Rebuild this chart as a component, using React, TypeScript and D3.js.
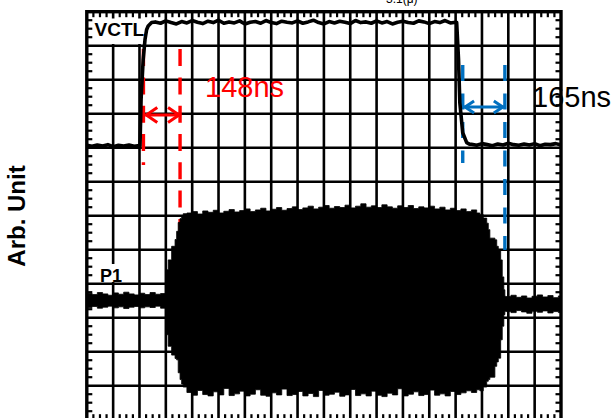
import React from 'react';
import * as d3 from 'd3';

// ---------- data (x in divisions 0..18, y in divisions 0..12) ----------
const xDivisions = 18;
const yDivisions = 12;

// VCTL trace
const vctlLowLeftStart = 0;
const vctlLowLeft = [8.07, 8.04, 8.08, 8.05, 8.09, 8.03, 8.07, 8.05, 8.08, 8.04, 8.06];
const vctlRise: [number, number][] = [[2.02, 8.06], [2.06, 9.41], [2.14, 10.59], [2.21, 11.18], [2.27, 11.47], [2.33, 11.58], [2.46, 11.68]];
const vctlHighStart = 2.6;
const vctlHigh = [
  11.70, 11.66, 11.73, 11.68, 11.64, 11.71, 11.67, 11.74, 11.69, 11.65,
  11.72, 11.68, 11.75, 11.66, 11.70, 11.67, 11.73, 11.64, 11.69, 11.71,
  11.66, 11.74, 11.68, 11.65, 11.72, 11.69, 11.67, 11.73, 11.66, 11.70,
  11.75, 11.68, 11.64, 11.71, 11.67, 11.72, 11.69, 11.65, 11.74, 11.68,
  11.70, 11.66, 11.73, 11.67, 11.71, 11.64, 11.69, 11.72, 11.68, 11.66,
  11.73, 11.70, 11.65, 11.71, 11.68, 11.74, 11.67, 11.69,
];
const vctlFall: [number, number][] = [[14.04, 11.68], [14.11, 10.6], [14.16, 9.32], [14.27, 8.44], [14.42, 8.15], [14.54, 8.10]];
const vctlLowRightStart = 14.6;
const vctlLowRight = [8.10, 8.07, 8.12, 8.09, 8.06, 8.11, 8.08, 8.13, 8.09, 8.07, 8.11, 8.08, 8.12, 8.06, 8.10, 8.09, 8.12, 8.08];
const sampleStep = 0.2;

// P1 trace: time, upper edge, lower edge
const p1BaseLeftStart = 0;
const p1BaseLeftUpper = [3.72, 3.68, 3.74, 3.70, 3.66, 3.73, 3.69, 3.75, 3.70, 3.67, 3.72, 3.68, 3.74, 3.69, 3.71, 3.70];
const p1BaseLeftLower = [3.30, 3.33, 3.28, 3.31, 3.34, 3.29, 3.32, 3.27, 3.31, 3.33, 3.29, 3.32, 3.30, 3.34, 3.28, 3.30];
const p1RiseTime = [3.01, 3.09, 3.22, 3.35, 3.41, 3.47, 3.54, 3.60, 3.66];
const p1RiseUpper = [4.41, 4.70, 5.10, 5.30, 5.54, 5.80, 5.92, 6.00, 6.06];
const p1RiseLower = [2.50, 2.16, 1.90, 1.80, 1.76, 1.38, 1.18, 1.05, 0.96];
const p1PlateauStart = 3.8;
const p1PlateauUpper = [
  6.08, 6.12, 6.05, 6.14, 6.10, 6.16, 6.08, 6.13, 6.18, 6.11,
  6.15, 6.20, 6.12, 6.17, 6.22, 6.14, 6.19, 6.24, 6.16, 6.21,
  6.26, 6.18, 6.23, 6.28, 6.20, 6.25, 6.30, 6.22, 6.27, 6.24,
  6.31, 6.23, 6.28, 6.35, 6.25, 6.29, 6.24, 6.32, 6.26, 6.22,
  6.29, 6.24, 6.30, 6.21, 6.26, 6.23, 6.28, 6.20, 6.25, 6.17,
  6.22, 6.15, 6.20, 6.12, 6.17, 6.08,
];
const p1PlateauLower = [
  0.80, 0.72, 0.86, 0.74, 0.70, 0.82, 0.73, 0.92, 0.71, 0.76,
  0.84, 0.70, 0.75, 0.88, 0.72, 0.69, 0.79, 0.73, 0.90, 0.71,
  0.74, 0.83, 0.70, 0.77, 0.68, 0.86, 0.72, 0.75, 0.81, 0.69,
  0.73, 0.89, 0.71, 0.76, 0.70, 0.84, 0.72, 0.68, 0.78, 0.73,
  0.91, 0.70, 0.75, 0.82, 0.71, 0.74, 0.87, 0.72, 0.76, 0.70,
  0.83, 0.74, 0.79, 0.85, 0.80, 0.88,
];
const p1DecayTime = [14.92, 15.05, 15.18, 15.24, 15.30, 15.49, 15.56, 15.62, 15.71, 15.77, 15.83, 15.87];
const p1DecayUpper = [6.03, 5.93, 5.78, 5.59, 5.34, 5.29, 5.10, 5.00, 4.70, 4.20, 3.82, 3.63];
const p1DecayLower = [0.85, 0.96, 1.13, 1.18, 1.25, 1.57, 1.70, 1.81, 2.35, 2.75, 3.09, 3.19];
const p1BaseRightStart = 15.9;
const p1BaseRightUpper = [3.62, 3.66, 3.60, 3.64, 3.58, 3.63, 3.67, 3.61, 3.65, 3.59, 3.64, 3.62];
const p1BaseRightLower = [3.18, 3.15, 3.21, 3.17, 3.13, 3.19, 3.16, 3.20, 3.14, 3.18, 3.15, 3.19];

// timing markers
const markerLines = [
  { t: 2.15, from: 10.90, to: 7.49, color: '#ff0000' },
  { t: 3.54, from: 10.90, to: 5.43, color: '#ff0000' },
  { t: 14.27, from: 10.43, to: 7.55, color: '#0070c0' },
  { t: 15.87, from: 10.43, to: 4.99, color: '#0070c0' },
];
const markerArrows = [
  { t0: 2.22, t1: 3.54, v: 8.96, color: '#ff0000' },
  { t0: 14.32, t1: 15.83, v: 9.20, color: '#0070c0' },
];
const markerLabels = [
  { text: '148ns', t: 4.49, v: 9.48, color: '#ff0000' },
  { text: '165ns', t: 16.9, v: 9.20, color: '#000000' },
];
const traceLabels = ['VCTL', 'P1'];
const yTitle = 'Arb. Unit';
const headerTexts = ['—', '3.1(μ)'];

// ---------- layout ----------
const W = 614;
const H = 418;
const left = 86.8;
const right = 561;
const top = 11.7;
const bottom = 419.7;
const FONT = "'Liberation Sans', Arial, Helvetica, sans-serif";

export default function App() {
  const x = d3.scaleLinear().domain([0, xDivisions]).range([left, right]);
  const y = d3.scaleLinear().domain([0, yDivisions]).range([bottom, top]);

  const vctlPts: [number, number][] = [
    ...vctlLowLeft.map((v, i) => [vctlLowLeftStart + i * sampleStep, v] as [number, number]),
    ...vctlRise,
    ...vctlHigh.map((v, i) => [vctlHighStart + i * sampleStep, v] as [number, number]),
    ...vctlFall,
    ...vctlLowRight.map((v, i) => [vctlLowRightStart + i * sampleStep, v] as [number, number]),
  ];
  const line = d3.line<[number, number]>().x(d => x(d[0])).y(d => y(d[1]));

  type P = [number, number, number];
  const p1Pts: P[] = [
    ...p1BaseLeftUpper.map((u, i) => [p1BaseLeftStart + i * sampleStep, u, p1BaseLeftLower[i]] as P),
    ...p1RiseTime.map((t, i) => [t, p1RiseUpper[i], p1RiseLower[i]] as P),
    ...p1PlateauUpper.map((u, i) => [p1PlateauStart + i * sampleStep, u, p1PlateauLower[i]] as P),
    ...p1DecayTime.map((t, i) => [t, p1DecayUpper[i], p1DecayLower[i]] as P),
    ...p1BaseRightUpper.map((u, i) => [p1BaseRightStart + i * sampleStep, u, p1BaseRightLower[i]] as P),
  ];
  const area = d3.area<P>().x(d => x(d[0])).y1(d => y(d[1])).y0(d => y(d[2])).curve(d3.curveStepAfter);

  const vGrid = d3.range(1, xDivisions);
  const hGrid = d3.range(1, yDivisions);
  const xMinor: number[] = [];
  for (let k = 0; k < xDivisions; k++) for (let i = 1; i < 4; i++) xMinor.push(k + i / 4);
  const yMinor: number[] = [];
  for (let k = 0; k < yDivisions; k++) for (let i = 1; i < 4; i++) yMinor.push(k + i / 4);
  const tickLen = 5.5;

  return (
    <svg width={W} height={H} style={{ position: 'absolute', left: 0, top: 0, background: '#fff' }} fontFamily={FONT}>
      <defs>
        <clipPath id="plot">
          <rect x={left} y={top} width={right - left} height={bottom - top} />
        </clipPath>
      </defs>
      <rect width={W} height={H} fill="#fff" />

      {/* partially visible header text (cut off at the top edge, as in the reference) */}
      <text x={293} y={2.5} fontSize={12} fill="#000">{headerTexts[0]}</text>
      <text x={386} y={2.5} fontSize={12} fill="#000">{headerTexts[1]}</text>

      {/* grid */}
      {vGrid.map(k => (
        <line key={'v' + k} x1={x(k)} x2={x(k)} y1={top} y2={bottom} stroke="#000" strokeWidth={2.6} />
      ))}
      {hGrid.map(k => (
        <line key={'h' + k} x1={left} x2={right} y1={y(k)} y2={y(k)} stroke="#000" strokeWidth={2.6} />
      ))}

      {/* label boxes */}
      <rect x={88.5} y={18.5} width={57} height={25.5} fill="#fff" />
      <rect x={97} y={264} width={28} height={18} fill="#fff" />

      {/* minor ticks */}
      {xMinor.map((t, i) => (
        <g key={'xm' + i}>
          <line x1={x(t)} x2={x(t)} y1={top} y2={top + tickLen} stroke="#000" strokeWidth={2.2} />
          <line x1={x(t)} x2={x(t)} y1={bottom} y2={bottom - tickLen} stroke="#000" strokeWidth={2.2} />
        </g>
      ))}
      {yMinor.map((v, i) => (
        <g key={'ym' + i}>
          <line x1={left} x2={left + tickLen} y1={y(v)} y2={y(v)} stroke="#000" strokeWidth={2.2} />
          <line x1={right} x2={right - tickLen} y1={y(v)} y2={y(v)} stroke="#000" strokeWidth={2.2} />
        </g>
      ))}
      <rect x={left} y={top} width={right - left} height={bottom - top} fill="none" stroke="#000" strokeWidth={3.4} />

      {/* marker dashed lines */}
      {markerLines.map((m, i) => (
        <line key={'ml' + i} x1={x(m.t)} x2={x(m.t)} y1={y(m.from)} y2={y(m.to)}
          stroke={m.color} strokeWidth={3.4}
          strokeDasharray={m.color === '#ff0000' ? '17 11.3' : '16 12.5'} />
      ))}
      {markerArrows.map((a, i) => {
        const x0 = x(a.t0), x1 = x(a.t1), yy = y(a.v);
        const dx = a.color === '#ff0000' ? 12 : 10;
        const dy = a.color === '#ff0000' ? 7.5 : 6;
        return (
          <g key={'ma' + i} stroke={a.color} strokeWidth={3} fill="none" strokeLinejoin="miter">
            <line x1={x0} x2={x1} y1={yy} y2={yy} />
            <path d={`M${x0 + dx},${yy - dy}L${x0 + 1},${yy}L${x0 + dx},${yy + dy}`} />
            <path d={`M${x1 - dx},${yy - dy}L${x1 - 1},${yy}L${x1 - dx},${yy + dy}`} />
          </g>
        );
      })}

      {/* traces */}
      <g clipPath="url(#plot)">
        <path d={area(p1Pts) || ''} fill="#000" stroke="#000" strokeWidth={0.8} />
        <path d={line(vctlPts) || ''} fill="none" stroke="#000" strokeWidth={3.6} strokeLinejoin="round" />
      </g>

      {/* trace labels */}
      <text x={94.5} y={36} fontSize={19} fontWeight="bold" fill="#000">{traceLabels[0]}</text>
      <text x={100} y={281.5} fontSize={18} fontWeight="bold" fill="#000">{traceLabels[1]}</text>

      {/* timing labels */}
      {markerLabels.map((l, i) => (
        <text key={'lb' + i} x={x(l.t)} y={y(l.v)} fontSize={29} fill={l.color}>{l.text}</text>
      ))}

      {/* y axis title */}
      <text transform="translate(25,216) rotate(-90)" textAnchor="middle" fontSize={24} fontWeight="bold" fill="#000">{yTitle}</text>
    </svg>
  );
}
